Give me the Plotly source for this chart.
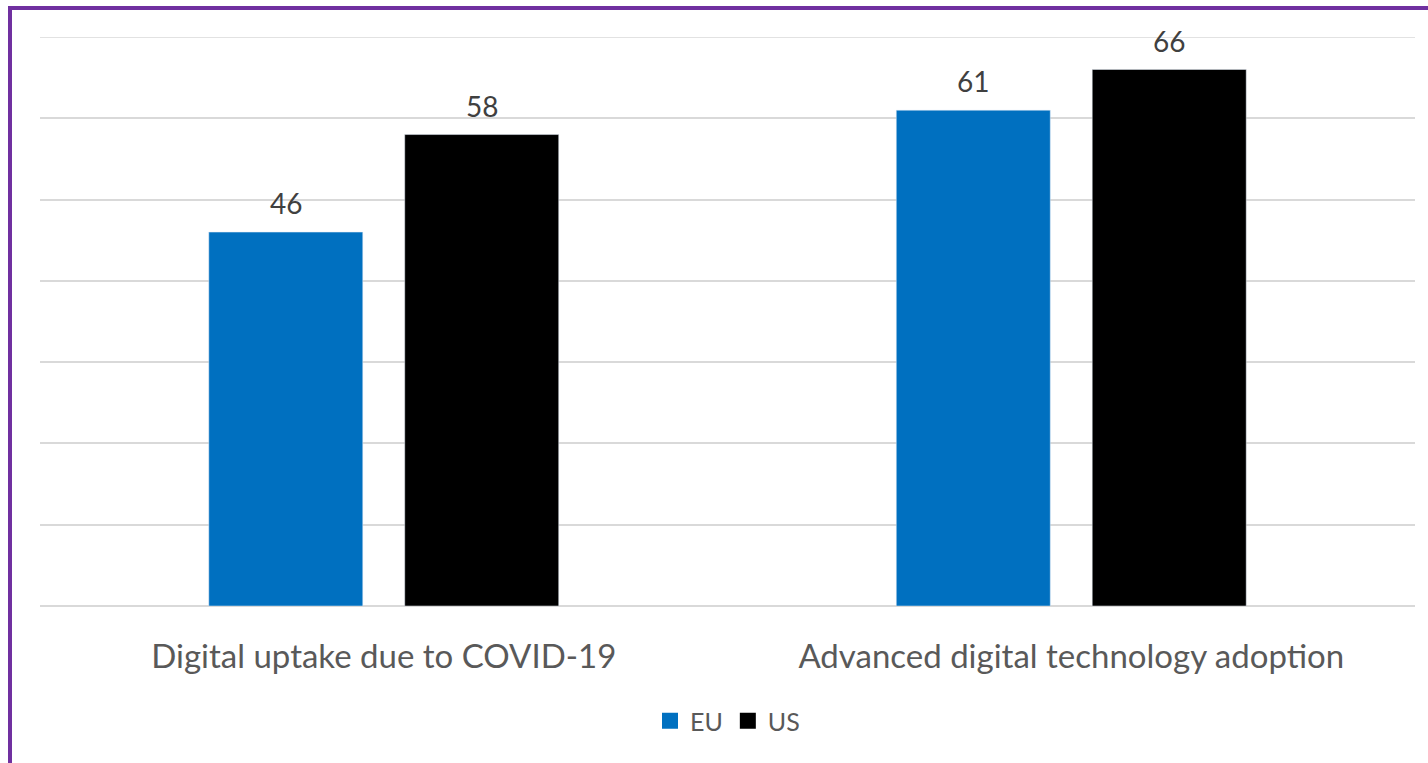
import plotly.graph_objects as go

categories = ["Digital uptake due to COVID-19", "Advanced digital technology adoption"]
eu_values = [46, 61]
us_values = [58, 66]
grid_values = [0, 10, 20, 30, 40, 50, 60, 70]

W, H = 1428, 763
L, R, T, B = 40, 13, 37, 157
plot_w = W - L - R
plot_h = H - T - B

FONT = "Lato, 'Noto Sans', sans-serif"
EU_COLOR = "#0070C0"
US_COLOR = "#000000"
GRID_COLOR = "#D9D9D9"


def px_to_paper_x(px):
    return (px - L) / plot_w


def px_to_paper_y(py):
    return (H - B - py) / plot_h


fig = go.Figure()
fig.add_trace(go.Bar(name="EU", x=categories, y=eu_values,
                     marker_color=EU_COLOR, showlegend=False))
fig.add_trace(go.Bar(name="US", x=categories, y=us_values,
                     marker_color=US_COLOR, showlegend=False))

# legend entries with larger square swatches
for name, color in [("EU", EU_COLOR), ("US", US_COLOR)]:
    fig.add_trace(go.Scatter(name=name, x=[None], y=[None], mode="markers",
                             marker=dict(symbol="square", size=18, color=color),
                             showlegend=True))

# value labels above each bar
bar_offset = 98  # half the distance between the centres of paired bars, in px
for series, shift in [(eu_values, -bar_offset), (us_values, bar_offset)]:
    for cat, val in zip(categories, series):
        fig.add_annotation(x=cat, y=val, xref="x", yref="y", text=str(val),
                           showarrow=False, xshift=shift, yshift=10,
                           yanchor="bottom",
                           font=dict(family=FONT, size=28, color="#404040"))

# top gridline sits on the plot edge, so draw it explicitly
fig.add_shape(type="line", xref="paper", yref="y", x0=0, x1=1,
              y0=grid_values[-1], y1=grid_values[-1],
              line=dict(color=GRID_COLOR, width=1.5), layer="below")

# purple frame along the top and left edges
purple = "#7030A0"
fig.add_shape(type="line", xref="paper", yref="paper",
              x0=px_to_paper_x(10), x1=px_to_paper_x(W + 20),
              y0=px_to_paper_y(8), y1=px_to_paper_y(8),
              line=dict(color=purple, width=4))
fig.add_shape(type="line", xref="paper", yref="paper",
              x0=px_to_paper_x(10), x1=px_to_paper_x(10),
              y0=px_to_paper_y(6), y1=px_to_paper_y(H + 20),
              line=dict(color=purple, width=4))

fig.update_layout(
    width=W, height=H,
    margin=dict(l=L, r=R, t=T, b=B),
    paper_bgcolor="white", plot_bgcolor="white",
    barmode="group", bargap=0.43, bargroupgap=0.214,
    showlegend=True,
    legend=dict(orientation="h", x=0.5, xanchor="center",
                y=px_to_paper_y(721), yanchor="middle",
                font=dict(family=FONT, size=25, color="#595959"),
                itemwidth=30, traceorder="normal"),
    xaxis=dict(showgrid=False, showline=False, ticks="", ticklabelstandoff=28,
               tickfont=dict(family=FONT, size=33, color="#595959")),
    yaxis=dict(range=[0, 70], tickvals=grid_values,
               showticklabels=False,
               showgrid=True, gridcolor=GRID_COLOR, gridwidth=1.5,
               zeroline=True, zerolinecolor=GRID_COLOR, zerolinewidth=1.5,
               showline=False),
)

fig.write_html("out.html")
